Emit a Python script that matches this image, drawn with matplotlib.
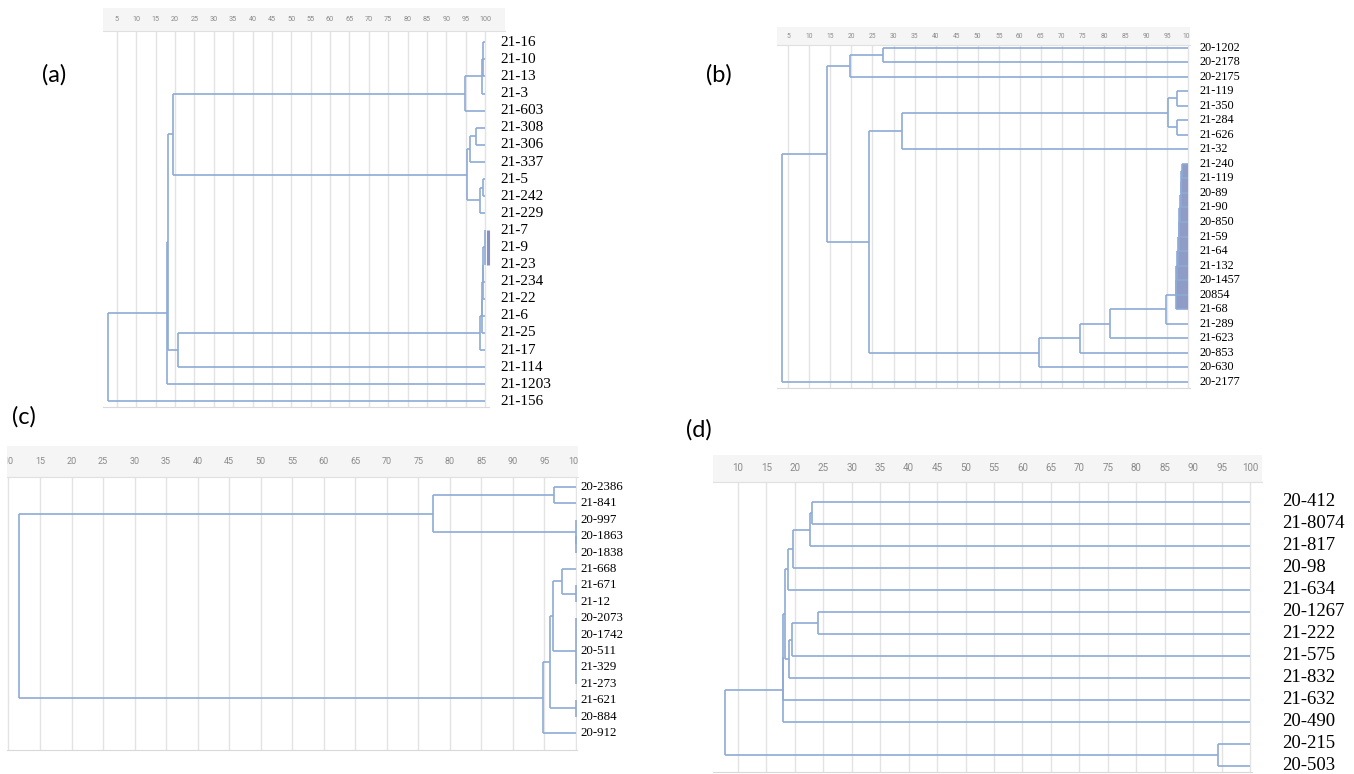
import numpy as np
import matplotlib
matplotlib.use("Agg")
import matplotlib.pyplot as plt
from matplotlib import transforms
from matplotlib.collections import LineCollection

W, H = 1354, 774

# ---- (a) ----
labels_a = ["21-16", "21-10", "21-13", "21-3", "21-603", "21-308", "21-306",
            "21-337", "21-5", "21-242", "21-229", "21-7", "21-9", "21-23",
            "21-234", "21-22", "21-6", "21-25", "21-17", "21-114", "21-1203",
            "21-156"]
# each merge: (child ids, similarity %); new node id = n_leaves + merge index
merges_a = [([0, 1, 2], 99.6), ([22, 3], 99.1), ([23, 4], 94.8),
            ([5, 6], 97.8), ([25, 7], 96.1), ([8, 9], 99.6), ([27, 10], 98.7),
            ([26, 28], 95.3), ([24, 29], 19.4),
            ([11, 12, 13], 100.0), ([31, 14], 99.6), ([32, 15], 99.4),
            ([33, 16], 99.2), ([34, 17], 99.1), ([35, 18], 98.7),
            ([36, 19], 20.8), ([30, 37], 18.3), ([38, 20], 17.9),
            ([39, 21], 2.8)]
bar_rows_a = (11, 13)

# ---- (b) ----
labels_b = ["20-1202", "20-2178", "20-2175", "21-119", "21-350", "21-284",
            "21-626", "21-32", "21-240", "21-119", "20-89", "21-90", "20-850",
            "21-59", "21-64", "21-132", "20-1457", "20854", "21-68", "21-289",
            "21-623", "20-853", "20-630", "20-2177"]
merges_b = [([0, 1], 27.5), ([24, 2], 19.7),
            ([3, 4], 97.3), ([5, 6], 97.3), ([26, 27], 95.1), ([28, 7], 32.1),
            ([8, 9], 98.6), ([30, 10], 98.4), ([31, 11], 98.3), ([32, 12], 98.1),
            ([33, 13], 97.9), ([34, 14], 97.8), ([35, 15], 97.6),
            ([36, 16], 97.4), ([37, 17], 97.2), ([38, 18], 97.0),
            ([39, 19], 94.7), ([40, 20], 81.4), ([41, 21], 74.3),
            ([42, 22], 64.6), ([29, 43], 24.2), ([25, 44], 14.1),
            ([45, 23], 3.6)]
shade_rows_b = (8, 18)

# ---- (c) ----
labels_c = ["20-2386", "21-841", "20-997", "20-1863", "20-1838", "21-668",
            "21-671", "21-12", "20-2073", "20-1742", "20-511", "21-329",
            "21-273", "21-621", "20-884", "20-912"]
merges_c = [([0, 1], 96.5), ([3, 4], 100.0), ([2, 17], 100.0),
            ([16, 18], 77.3), ([6, 7], 100.0), ([5, 20], 97.8),
            ([8, 9, 10, 11, 12], 100.0), ([21, 22], 96.4), ([13, 14], 100.0),
            ([23, 24], 95.8), ([25, 15], 94.7), ([19, 26], 11.6)]

# ---- (d) ----
labels_d = ["20-412", "21-8074", "21-817", "20-98", "21-634", "20-1267",
            "21-222", "21-575", "21-832", "21-632", "20-490", "20-215",
            "20-503"]
merges_d = [([0, 1], 23.1), ([13, 2], 22.6), ([14, 3], 19.6), ([15, 4], 18.8),
            ([5, 6], 24.0), ([17, 7], 19.5), ([18, 8], 18.9), ([16, 19], 18.2),
            ([20, 9], 18.0), ([21, 10], 17.9), ([11, 12], 94.3),
            ([22, 23], 7.8)]

LINE = "#8eaad4"
SHADE = "#8f9cc7"
BAR = "#8790c4"
GRID = "#e3e3e3"
BAND = "#f5f5f5"


def px_axes(fig, x0, y0, x1, y1):
    return fig.add_axes([x0 / W, 1 - y1 / H, (x1 - x0) / W, (y1 - y0) / H])


def draw_tree(ax, n, merges, shade_rows=None, lw=1.2):
    ys = [float(i) for i in range(n)]
    xs = [100.0] * n
    members = [{i} for i in range(n)]
    segs = []
    for kids, sim in merges:
        rows = [ys[k] for k in kids]
        for k in kids:
            segs.append([(xs[k], ys[k]), (sim, ys[k])])
        segs.append([(sim, min(rows)), (sim, max(rows))])
        leaves = set().union(*[members[k] for k in kids])
        if shade_rows and leaves <= set(range(shade_rows[0], shade_rows[1] + 1)):
            ax.fill_betweenx([min(rows), max(rows)], sim, 100, color=SHADE,
                             lw=0, zorder=2)
        ys.append(float(np.mean(rows)))
        xs.append(sim)
        members.append(leaves)
    ax.add_collection(LineCollection(segs, colors=LINE, linewidths=lw,
                                     zorder=3, clip_on=False))


def panel(fig, labels, merges, main_box, head_box, px0, ppu, row0, step,
          label_x, label_fs, tick_fs, ticks, shade_rows=None):
    to_val = lambda px: (px - px0) / ppu
    to_row = lambda py: (py - row0) / step

    ax = px_axes(fig, *main_box)
    ax.set_xlim(to_val(main_box[0]), to_val(main_box[2]))
    ax.set_ylim(to_row(main_box[3]), to_row(main_box[1]))
    ax.set_xticks(ticks)
    ax.set_yticks([])
    ax.tick_params(length=0, labelbottom=False)
    ax.grid(axis="x", color=GRID, lw=1, zorder=0)
    for s in ["top", "left", "right"]:
        ax.spines[s].set_visible(False)
    ax.spines["bottom"].set_color("#d9d9d9")
    draw_tree(ax, len(labels), merges, shade_rows)
    for i, lab in enumerate(labels):
        ax.text(to_val(label_x), i, lab, family="Liberation Serif",
                fontsize=label_fs, va="center", ha="left", clip_on=False)

    hx = px_axes(fig, *head_box)
    hx.set_facecolor(BAND)
    hx.set_xlim(to_val(head_box[0]), to_val(head_box[2]))
    hx.set_ylim(0, 1)
    hx.set_xticks([])
    hx.set_yticks([])
    for s in ["top", "left", "right"]:
        hx.spines[s].set_visible(False)
    hx.spines["bottom"].set_color("#e0e0e0")
    for v in ticks:
        hx.text(v, 0.5, str(v), ha="center", va="center", fontsize=tick_fs,
                color="#8a8a8a", family="Roboto", clip_on=True)
    return ax


fig = plt.figure(figsize=(W / 100, H / 100), dpi=100)

ax_a = panel(fig, labels_a, merges_a, (103, 31, 489, 407), (103, 8, 505, 31),
             97.6, 3.874, 42.3, 17.1, 500, 11, 5.2, list(range(5, 101, 5)))
shift = transforms.offset_copy(ax_a.transData, fig=fig, x=2.2, y=0,
                               units="points")
ax_a.plot([100, 100], list(bar_rows_a), transform=shift, color=BAR, lw=2.2,
          solid_capstyle="butt", clip_on=False, zorder=4)

panel(fig, labels_b, merges_b, (777, 45, 1190, 388), (777, 27, 1190, 45),
      767.2, 4.21, 47.5, 14.54, 1199, 8.8, 4.8, list(range(5, 101, 5)),
      shade_rows=shade_rows_b)

panel(fig, labels_c, merges_c, (7, 477, 577, 750), (7, 446, 578, 477),
      -54.6, 6.306, 487, 16.4, 580, 9.3, 6.5, list(range(10, 101, 5)))

panel(fig, labels_d, merges_d, (713, 482, 1252, 772), (713, 455, 1262, 482),
      681, 5.69, 502, 22.0, 1282, 13.5, 7, list(range(10, 101, 5)))

for txt, x, y in [("(a)", 54, 75), ("(b)", 719, 75), ("(c)", 24, 417),
                  ("(d)", 699, 430)]:
    fig.text(x / W, 1 - y / H, txt, fontsize=17, family="Lato",
             ha="center", va="center")

fig.savefig("out.png", dpi=100)
